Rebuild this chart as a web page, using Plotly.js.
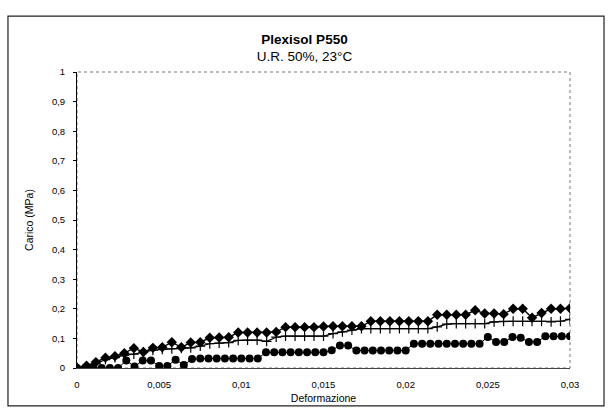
<!DOCTYPE html>
<html>
<head>
<meta charset="utf-8">
<script src="https://cdn.plot.ly/plotly-3.0.1.min.js"></script>
<style>html,body{margin:0;padding:0;background:#fff;}#chart{width:609px;height:409px;}</style>
</head>
<body>
<div id="chart"></div>
<script>
// Strain values for the diamond and cross series (53 samples)
var strainA = [0, 0.00058, 0.00115, 0.00173, 0.00231, 0.00288, 0.00346, 0.00404, 0.00462, 0.00519,
  0.00577, 0.00635, 0.00692, 0.0075, 0.00808, 0.00865, 0.00923, 0.00981, 0.01038, 0.01096,
  0.01154, 0.01212, 0.01269, 0.01327, 0.01385, 0.01442, 0.015, 0.01558, 0.01615, 0.01673,
  0.01731, 0.01788, 0.01846, 0.01904, 0.01962, 0.02019, 0.02077, 0.02135, 0.02192, 0.0225,
  0.02308, 0.02365, 0.02423, 0.02481, 0.02538, 0.02596, 0.02654, 0.02712, 0.02769, 0.02827,
  0.02885, 0.02942, 0.03];
// Strain values for the circle series (61 samples)
var strainB = [0, 0.0005, 0.001, 0.0015, 0.002, 0.0025, 0.003, 0.0035, 0.004, 0.0045,
  0.005, 0.0055, 0.006, 0.0065, 0.007, 0.0075, 0.008, 0.0085, 0.009, 0.0095,
  0.01, 0.0105, 0.011, 0.0115, 0.012, 0.0125, 0.013, 0.0135, 0.014, 0.0145,
  0.015, 0.0155, 0.016, 0.0165, 0.017, 0.0175, 0.018, 0.0185, 0.019, 0.0195,
  0.02, 0.0205, 0.021, 0.0215, 0.022, 0.0225, 0.023, 0.0235, 0.024, 0.0245,
  0.025, 0.0255, 0.026, 0.0265, 0.027, 0.0275, 0.028, 0.0285, 0.029, 0.0295, 0.03];

var loadDiamond = [0, 0.008, 0.02, 0.035, 0.04, 0.05, 0.067, 0.054, 0.068, 0.07,
  0.087, 0.07, 0.086, 0.087, 0.102, 0.103, 0.104, 0.12, 0.12, 0.12,
  0.12, 0.122, 0.138, 0.138, 0.138, 0.138, 0.14, 0.141, 0.141, 0.141,
  0.141, 0.158, 0.158, 0.158, 0.158, 0.158, 0.158, 0.158, 0.18, 0.18,
  0.18, 0.18, 0.195, 0.184, 0.184, 0.182, 0.2, 0.2, 0.17, 0.186,
  0.2, 0.2, 0.202];
var loadCross = [0, 0.005, 0.015, 0.028, 0.035, 0.043, 0.047, 0.054, 0.06, 0.063,
  0.065, 0.066, 0.068, 0.074, 0.082, 0.084, 0.086, 0.093, 0.094, 0.094,
  0.09, 0.104, 0.108, 0.108, 0.108, 0.108, 0.108, 0.116, 0.122, 0.128,
  0.133, 0.133, 0.133, 0.133, 0.133, 0.133, 0.133, 0.133, 0.139, 0.148,
  0.15, 0.15, 0.15, 0.15, 0.156, 0.158, 0.158, 0.158, 0.158, 0.158,
  0.156, 0.158, 0.164];
var loadCircle = [0, 0, 0, 0, 0, 0, 0.025, 0.005, 0.025, 0.025,
  0.007, 0.007, 0.028, 0.01, 0.03, 0.032, 0.032, 0.032, 0.032, 0.032,
  0.032, 0.032, 0.032, 0.053, 0.053, 0.053, 0.053, 0.053, 0.053, 0.053,
  0.053, 0.06, 0.076, 0.076, 0.059, 0.059, 0.059, 0.059, 0.059, 0.059,
  0.059, 0.082, 0.082, 0.082, 0.082, 0.082, 0.082, 0.082, 0.082, 0.082,
  0.105, 0.088, 0.088, 0.105, 0.102, 0.088, 0.088, 0.107, 0.107, 0.107, 0.107];

var titleMain = "Plexisol P550";
var titleSub = "U.R. 50%, 23°C";
var xTitle = "Deformazione";
var yTitle = "Carico (MPa)";

var fontFam = "Liberation Sans, Arial, sans-serif";

var traces = [
  {x: strainB, y: loadCircle, mode: "lines+markers", type: "scatter",
   line: {color: "#000", width: 1}, marker: {symbol: "circle", size: 8, color: "#000"}},
  {x: strainA, y: loadCross, mode: "lines+markers", type: "scatter",
   line: {color: "#000", width: 1.2}, marker: {symbol: "cross-thin", size: 7, color: "#000", line: {color: "#000", width: 1.2}}},
  {x: strainA, y: loadDiamond, mode: "lines+markers", type: "scatter",
   line: {color: "#000", width: 1.4}, marker: {symbol: "diamond", size: 8, color: "#000"}}
];

var layout = {
  width: 609, height: 409,
  margin: {l: 77, r: 39, t: 72, b: 41},
  paper_bgcolor: "#fff", plot_bgcolor: "#fff",
  separators: ",.",
  showlegend: false,
  font: {family: fontFam, color: "#000", size: 9},
  title: {
    text: "<b>" + titleMain + "</b><br>" + titleSub,
    font: {family: fontFam, size: 13.5, color: "#000"},
    x: 0.5, xanchor: "center", y: 0.893, yanchor: "middle"
  },
  xaxis: {
    range: [0, 0.03], dtick: 0.005, tick0: 0,
    showgrid: false, zeroline: false, showline: true, linecolor: "#444", linewidth: 1,
    ticks: "", ticklabelstandoff: 8,
    tickfont: {family: fontFam, size: 9.5, color: "#000"},
    title: {text: xTitle, font: {family: fontFam, size: 10.5, color: "#000"}, standoff: 5}
  },
  yaxis: {
    range: [0, 1], dtick: 0.1, tick0: 0,
    showgrid: false, zeroline: false, showline: true, linecolor: "#000", linewidth: 1,
    ticks: "outside", ticklen: 3, tickcolor: "#000", ticklabelstandoff: 6,
    tickfont: {family: fontFam, size: 9.5, color: "#000"},
    title: {text: yTitle, font: {family: fontFam, size: 10.5, color: "#000"}, standoff: 16}
  },
  shapes: [
    {type: "rect", xref: "paper", yref: "paper", x0: 0, x1: 1, y0: 0, y1: 1,
     line: {color: "#777", width: 1, dash: "dot"}, layer: "below"},
    {type: "rect", xref: "paper", yref: "paper", x0: -0.14, x1: 1.069, y0: -0.128, y1: 1.189,
     line: {color: "#222", width: 1.2}, layer: "below"}
  ]
};

Plotly.newPlot("chart", traces, layout, {staticPlot: true, displayModeBar: false});
</script>
</body>
</html>
